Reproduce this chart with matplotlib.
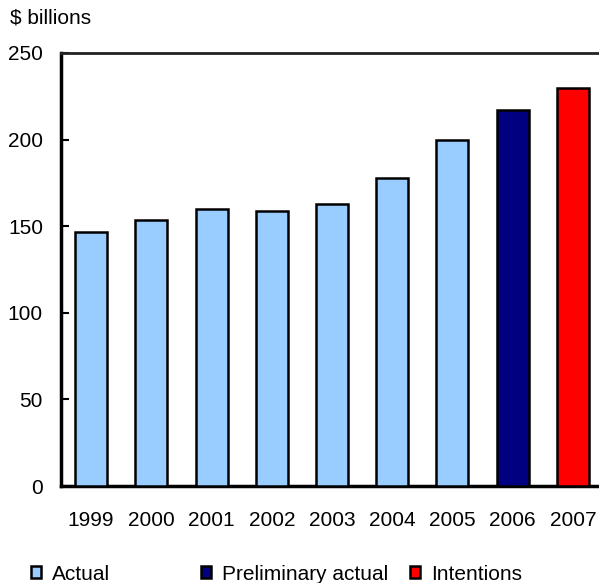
import matplotlib
matplotlib.use("Agg")
import matplotlib.pyplot as plt
from matplotlib.patches import Patch

plt.rcParams['font.family'] = ['Liberation Sans', 'DejaVu Sans']

years = ['1999', '2000', '2001', '2002', '2003', '2004', '2005', '2006', '2007']
values = [146.6, 153.5, 160.0, 158.8, 162.8, 177.8, 199.8, 217.1, 229.8]
series = ['Actual', 'Actual', 'Actual', 'Actual', 'Actual', 'Actual', 'Actual',
          'Preliminary actual', 'Intentions']
colors = {'Actual': '#99ccff', 'Preliminary actual': '#000080', 'Intentions': '#ff0000'}
yticks = [0, 50, 100, 150, 200, 250]

W, H = 599, 583
fig = plt.figure(figsize=(W / 100, H / 100), dpi=100)
ax = fig.add_axes([61 / W, (H - 486) / H, 542 / W, 433 / H])

x = list(range(len(years)))
ax.bar(x, values, width=0.53, color=[colors[s] for s in series],
       edgecolor='black', linewidth=1.8, zorder=3)

ax.set_xlim(-0.5, len(years) - 0.5)
ax.set_ylim(0, 250)
ax.set_yticks(yticks)
ax.set_yticklabels([str(v) for v in yticks], fontsize=15)
ax.set_xticks(x)
ax.set_xticklabels(years, fontsize=15)
ax.tick_params(axis='y', direction='in', length=6, width=1.5, pad=13)
ax.tick_params(axis='x', length=0, pad=18)

for s in ['left', 'bottom']:
    ax.spines[s].set_linewidth(2.5)
ax.spines['top'].set_linewidth(2)
ax.spines['top'].set_color('#222222')
ax.spines['right'].set_visible(False)

fig.text(10 / W, 1 - 18 / H, '$ billions', fontsize=15, va='center', ha='left')

legend_pos = {'Actual': 31, 'Preliminary actual': 201, 'Intentions': 410}
for name, px in legend_pos.items():
    h = [Patch(facecolor=colors[name], edgecolor='black', linewidth=1.8)]
    lg = fig.legend(h, [name], loc='center left',
                    bbox_to_anchor=(px / W, 1 - 574 / H),
                    frameon=False, fontsize=15, borderpad=0, borderaxespad=0,
                    handlelength=0.5, handleheight=0.5, handletextpad=0.5)

fig.savefig('out.png', dpi=100)
